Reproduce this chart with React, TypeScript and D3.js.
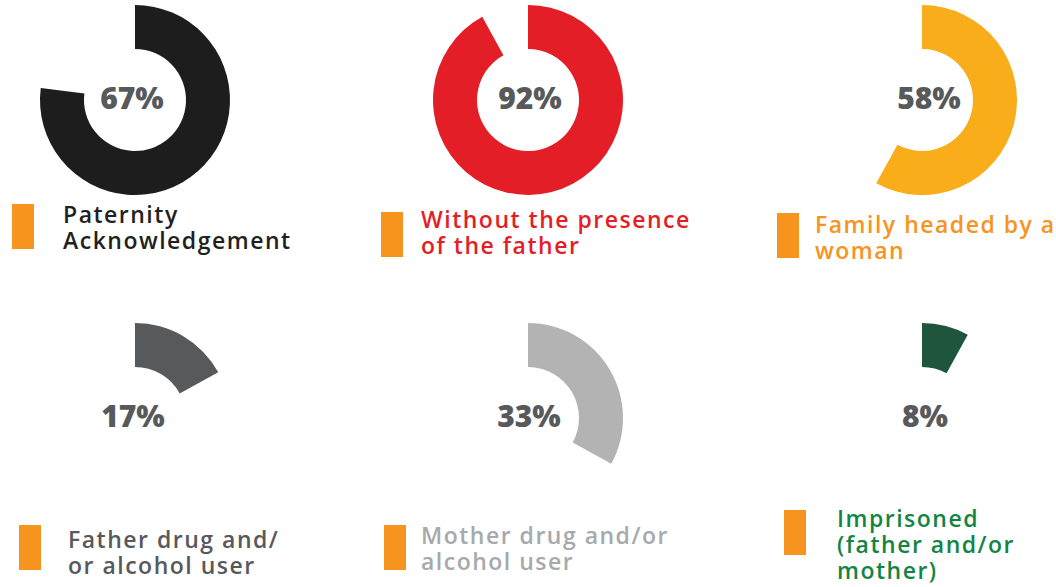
import React from "react";
import * as d3 from "d3";

const categories = [
  ["Paternity", "Acknowledgement"],
  ["Without the presence", "of the father"],
  ["Family headed by a", "woman"],
  ["Father drug and/", "or alcohol user"],
  ["Mother drug and/or", "alcohol user"],
  ["Imprisoned", "(father and/or", "mother)"],
];
const labelPercent = [67, 92, 58, 17, 33, 8];
// arc extent as drawn in the picture
const arcPercent = [77, 92, 58, 17, 33, 8];
const arcColors = ["#1d1d1d", "#e31e26", "#f9ad1b", "#58595b", "#b2b3b2", "#1f553d"];
const textColors = ["#231f20", "#e31e26", "#f7941d", "#58595b", "#a7a9ac", "#138543"];

const W = 1056;
const H = 587;
const centersX = [135, 528, 922];
const centersY = [100, 418];
const labelDx = [-3, 2, 7, -2, 1, 3];
const legendLayout = [
  { rx: 12, ry: 204, tx: 63, ty: 223 },
  { rx: 381, ry: 212, tx: 421, ty: 228 },
  { rx: 777, ry: 213, tx: 815, ty: 233 },
  { rx: 19, ry: 525, tx: 68, ty: 548 },
  { rx: 384, ry: 525, tx: 421, ty: 544 },
  { rx: 784, ry: 510, tx: 837, ty: 527 },
];

export default function App() {
  const scale = d3.scaleLinear().domain([0, 100]).range([0, 2 * Math.PI]);
  const arc = d3.arc<any>().innerRadius(51).outerRadius(95);
  const font = "'Open Sans', sans-serif";
  return (
    <svg width={W} height={H} style={{ position: "absolute", left: 0, top: 0 }}>
      <rect width={W} height={H} fill="#fff" />
      {categories.map((lines, i) => {
        const cx = centersX[i % 3];
        const cy = centersY[Math.floor(i / 3)];
        const lg = legendLayout[i];
        return (
          <g key={i}>
            <path
              transform={`translate(${cx},${cy})`}
              d={arc({ startAngle: 0, endAngle: scale(arcPercent[i]) }) as string}
              fill={arcColors[i]}
            />
            <text
              x={cx + labelDx[i]}
              y={cy + 9}
              textAnchor="middle"
              fontFamily={font}
              fontWeight={800}
              fontSize={30}
              fill="#58595b"
            >
              {labelPercent[i]}%
            </text>
            <rect x={lg.rx} y={lg.ry} width={22} height={45} fill="#f7941d" />
            <text
              fontFamily={font}
              fontWeight={600}
              fontSize={23}
              letterSpacing={1.5}
              fill={textColors[i]}
            >
              {lines.map((l, j) => (
                <tspan key={j} x={lg.tx} y={lg.ty + j * 26}>
                  {l}
                </tspan>
              ))}
            </text>
          </g>
        );
      })}
    </svg>
  );
}
